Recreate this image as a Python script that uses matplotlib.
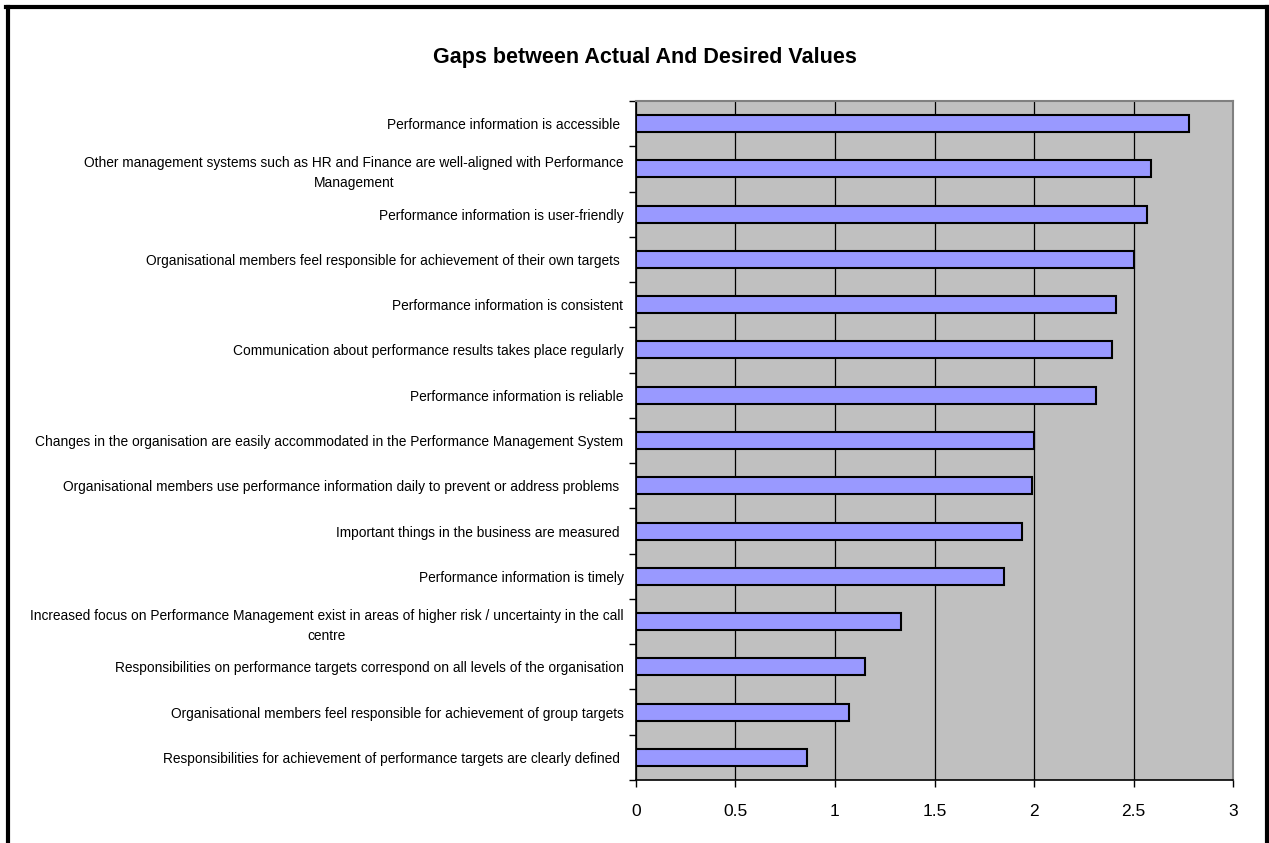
import matplotlib
matplotlib.use("Agg")
import matplotlib.pyplot as plt
from matplotlib.lines import Line2D
import numpy as np

plt.rcParams['font.family'] = ['Liberation Sans', 'DejaVu Sans']

title = "Gaps between Actual And Desired Values"
categories = [
    "Performance information is accessible ",
    "Other management systems such as HR and Finance are well-aligned with Performance\nManagement",
    "Performance information is user-friendly",
    "Organisational members feel responsible for achievement of their own targets ",
    "Performance information is consistent",
    "Communication about performance results takes place regularly",
    "Performance information is reliable",
    "Changes in the organisation are easily accommodated in the Performance Management System",
    "Organisational members use performance information daily to prevent or address problems ",
    "Important things in the business are measured ",
    "Performance information is timely",
    "Increased focus on Performance Management exist in areas of higher risk / uncertainty in the call\ncentre",
    "Responsibilities on performance targets correspond on all levels of the organisation",
    "Organisational members feel responsible for achievement of group targets",
    "Responsibilities for achievement of performance targets are clearly defined ",
]
values = [2.78, 2.59, 2.57, 2.50, 2.41, 2.39, 2.31, 2.00, 1.99, 1.94, 1.85, 1.33, 1.15, 1.07, 0.86]
x_ticks = [0, 0.5, 1, 1.5, 2, 2.5, 3]
x_ticklabels = ["0", "0.5", "1", "1.5", "2", "2.5", "3"]

W, H = 1269, 843
fig = plt.figure(figsize=(W / 100, H / 100), dpi=100)
ax = fig.add_axes([636 / W, 1 - 780 / H, (1233 - 636) / W, (780 - 101) / H])

n = len(categories)
y = np.arange(n)
ax.set_facecolor('#C0C0C0')
ax.barh(y, values, height=0.375, color='#9999FF', edgecolor='black', linewidth=1.5, zorder=3)

ax.set_xlim(0, 3)
ax.set_ylim(n - 0.5, -0.5)
ax.set_xticks(x_ticks)
ax.set_xticklabels(x_ticklabels, fontsize=12.5)
ax.set_yticks(y)
ax.set_yticklabels(categories, fontsize=9.9, multialignment='center', linespacing=1.55)
ax.tick_params(axis='y', which='major', length=0, pad=9)
ax.set_yticks(np.arange(-0.5, n, 1), minor=True)
ax.tick_params(axis='y', which='minor', length=5, width=1, direction='out')
ax.tick_params(axis='x', which='major', length=5, width=1, direction='out', pad=12)

ax.grid(axis='x', color='black', linewidth=0.9, zorder=1)
ax.set_axisbelow(True)
for s in ['left', 'bottom']:
    ax.spines[s].set_color('black')
    ax.spines[s].set_linewidth(1.2)
for s in ['top', 'right']:
    ax.spines[s].set_color('#808080')
    ax.spines[s].set_linewidth(1.5)

fig.text(645 / W, 1 - 57 / H, title, ha='center', va='center', fontsize=15.5, fontweight='bold')

# outer frame (left, top, right; bottom cut off)
lw = 3
fig.add_artist(Line2D([8 / W, 8 / W], [0, 1 - 7 / H], color='black', linewidth=lw, transform=fig.transFigure))
fig.add_artist(Line2D([6 / W, 1267 / W], [1 - 7 / H, 1 - 7 / H], color='black', linewidth=lw, transform=fig.transFigure))
fig.add_artist(Line2D([1267 / W, 1267 / W], [0, 1 - 7 / H], color='black', linewidth=lw, transform=fig.transFigure))

fig.savefig("out.png", dpi=100)
